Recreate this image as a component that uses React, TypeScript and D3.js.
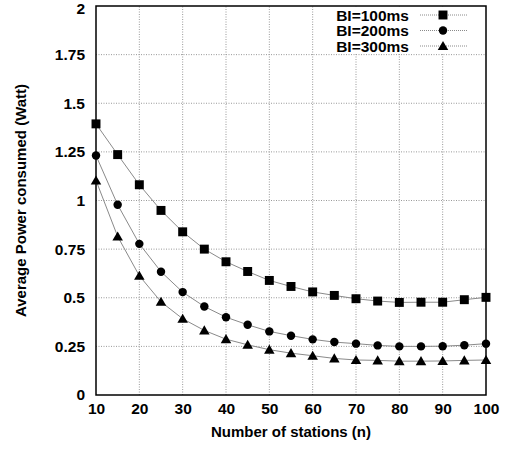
import React, { useEffect, useRef } from "react";
import * as d3 from "d3";

const stations = [10, 15, 20, 25, 30, 35, 40, 45, 50, 55, 60, 65, 70, 75, 80, 85, 90, 95, 100];
const bi100 = [1.394, 1.236, 1.081, 0.949, 0.839, 0.75, 0.685, 0.635, 0.589, 0.558, 0.53, 0.512, 0.495, 0.483, 0.476, 0.477, 0.477, 0.49, 0.502];
const bi200 = [1.231, 0.978, 0.777, 0.634, 0.529, 0.455, 0.4, 0.361, 0.327, 0.305, 0.286, 0.272, 0.264, 0.255, 0.25, 0.25, 0.251, 0.256, 0.264];
const bi300 = [1.103, 0.815, 0.613, 0.479, 0.392, 0.332, 0.287, 0.258, 0.233, 0.215, 0.202, 0.188, 0.18, 0.178, 0.174, 0.174, 0.175, 0.178, 0.18];
const seriesNames = ["BI=100ms", "BI=200ms", "BI=300ms"];
const xTicks = [10, 20, 30, 40, 50, 60, 70, 80, 90, 100];
const yTicks = [0, 0.25, 0.5, 0.75, 1, 1.25, 1.5, 1.75, 2];

const font = "'Liberation Sans', Arial, sans-serif";

function App() {
  const ref = useRef<SVGSVGElement>(null);

  useEffect(() => {
    const svg = d3.select(ref.current);
    svg.selectAll("*").remove();

    const x = d3.scaleLinear().domain([10, 100]).range([96, 486]);
    const y = d3.scaleLinear().domain([0, 2]).range([395, 6]);

    // grid
    const grid = svg.append("g").attr("stroke", "#999").attr("stroke-width", 1).attr("stroke-dasharray", "1,1.5");
    xTicks.slice(1, -1).forEach(t => {
      grid.append("line").attr("x1", x(t)).attr("x2", x(t)).attr("y1", y(0)).attr("y2", y(2));
    });
    yTicks.slice(1, -1).forEach(t => {
      grid.append("line").attr("x1", x(10)).attr("x2", x(100)).attr("y1", y(t)).attr("y2", y(t));
    });

    // axes labels
    const xa = svg.append("g").attr("transform", `translate(0,${y(0)})`)
      .call(d3.axisBottom(x).tickValues(xTicks).tickSize(0).tickPadding(8).tickFormat(d3.format("d")));
    xa.select(".domain").remove();
    xa.selectAll("text").attr("font-family", font).attr("font-weight", "bold").attr("font-size", 15.5).attr("fill", "#000");

    const ya = svg.append("g").attr("transform", `translate(${x(10)},0)`)
      .call(d3.axisLeft(y).tickValues(yTicks).tickSize(0).tickPadding(11).tickFormat(d => String(d)));
    ya.select(".domain").remove();
    ya.selectAll("text").attr("font-family", font).attr("font-weight", "bold").attr("font-size", 15.5).attr("fill", "#000");
    ya.selectAll("text").filter(d => d === 2).attr("dy", "0.5em");

    svg.append("text").attr("x", x(55)).attr("y", 437).attr("text-anchor", "middle")
      .attr("font-family", font).attr("font-weight", "bold").attr("font-size", 15).text("Number of stations (n)");
    svg.append("text").attr("transform", `translate(26,${y(1)}) rotate(-90)`).attr("text-anchor", "middle")
      .attr("font-family", font).attr("font-weight", "bold").attr("font-size", 15).text("Average Power consumed (Watt)");

    // legend background
    svg.append("rect").attr("x", 334).attr("y", y(2) + 1).attr("width", 144).attr("height", 46).attr("fill", "#fff");

    const all = [bi100, bi200, bi300];
    const line = d3.line<number>().x((_, i) => x(stations[i])).y(d => y(d));
    const sym = [d3.symbolSquare, d3.symbolCircle, d3.symbolTriangle];
    const sizes = [80, 56, 48];

    all.forEach((vals, k) => {
      svg.append("path").datum(vals).attr("d", line).attr("fill", "none").attr("stroke", "#8a8a8a").attr("stroke-width", 1);
      const shape = d3.symbol().type(sym[k]).size(sizes[k]);
      svg.append("g").selectAll("path").data(vals).join("path")
        .attr("transform", (d, i) => `translate(${x(stations[i])},${y(d) + (k === 2 ? 1 : 0)})`)
        .attr("d", shape).attr("fill", "#000");

      // legend entry
      const ly = 15 + k * 15.5;
      svg.append("text").attr("x", 409).attr("y", ly + 5.5).attr("text-anchor", "end")
        .attr("font-family", font).attr("font-weight", "bold").attr("font-size", 15.5).text(seriesNames[k]);
      svg.append("line").attr("x1", 420).attr("x2", 467).attr("y1", ly).attr("y2", ly)
        .attr("stroke", "#8a8a8a").attr("stroke-width", 1).attr("stroke-dasharray", "1,1");
      svg.append("path").attr("transform", `translate(443,${ly + (k === 2 ? 1 : 0)})`).attr("d", shape).attr("fill", "#000");
    });

    // frame
    svg.append("rect").attr("x", x(10)).attr("y", y(2)).attr("width", x(100) - x(10)).attr("height", y(0) - y(2))
      .attr("fill", "none").attr("stroke", "#000").attr("stroke-width", 1.5);
  }, []);

  return (
    <svg ref={ref} width={510} height={453} style={{ position: "absolute", left: 0, top: 0, background: "#fff" }} />
  );
}

export default App;
